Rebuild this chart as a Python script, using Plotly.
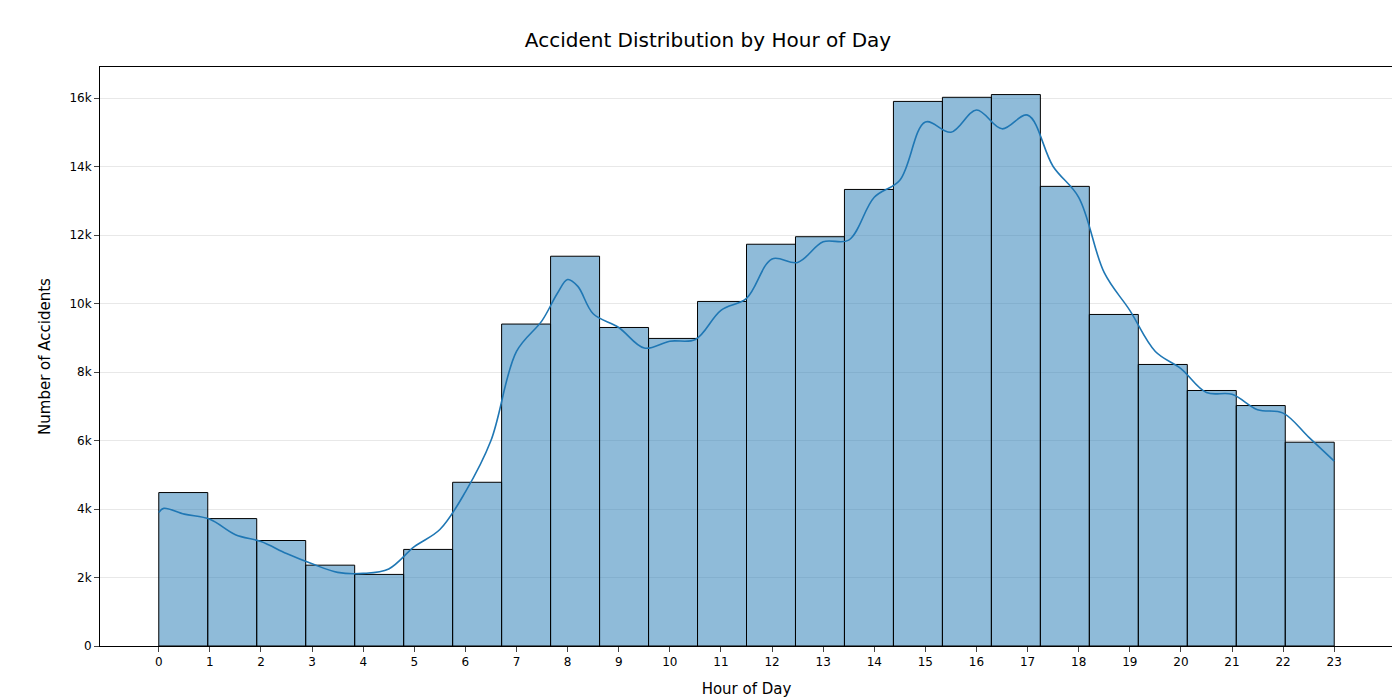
import plotly.graph_objects as go

counts = [4480, 3720, 3080, 2360, 2090, 2820, 4780, 9400, 11380, 9300, 8980, 10060,
          11730, 11950, 13330, 15900, 16020, 16100, 13420, 9680, 8220, 7460, 7020, 5950]

kde_x = [0, 0.1, 0.5, 1, 1.5, 2, 2.5, 3, 3.5, 4, 4.5, 5, 5.5, 6, 6.5, 7, 7.5, 7.8, 8, 8.2,
         8.5, 9, 9.5, 10, 10.5, 11, 11.5, 12, 12.5, 13, 13.5, 14, 14.5, 15, 15.5, 16, 16.5,
         17, 17.5, 18, 18.5, 19, 19.5, 20, 20.5, 21, 21.5, 22, 22.5, 23]
kde_y = [3900, 4020, 3850, 3700, 3250, 3050, 2700, 2400, 2150, 2120, 2250, 2900, 3400, 4500,
         6000, 8600, 9500, 10300, 10700, 10500, 9700, 9300, 8700, 8900, 8950, 9800, 10150,
         11300, 11200, 11800, 11850, 13100, 13600, 15300, 15000, 15650, 15100, 15500, 14000,
         13100, 10900, 9800, 8600, 8100, 7400, 7350, 6900, 6800, 6100, 5400]

hours = list(range(24))
bw = 23 / 24
centers = [bw * (i + 0.5) for i in range(24)]

fig = go.Figure()
fig.add_trace(go.Bar(x=centers, y=counts, width=bw,
                     marker=dict(color="rgba(31,119,180,0.5)", line=dict(color="black", width=1))))
fig.add_trace(go.Scatter(x=kde_x, y=kde_y, mode="lines", line=dict(color="#1f77b4", width=1.6,
                                                                     shape="spline")))
fig.update_layout(
    width=1400, height=700, showlegend=False, plot_bgcolor="white", paper_bgcolor="white",
    font=dict(family="DejaVu Sans", color="black", size=12),
    title=dict(text="Accident Distribution by Hour of Day", x=0.5, y=0.965,
               font=dict(size=20)),
    margin=dict(l=92, r=15, t=59, b=62),
    xaxis=dict(range=[-1.15, 24.15], tickvals=hours, ticks="outside", showgrid=False,
               title=dict(text="Hour of Day", font=dict(size=15)), showline=True,
               linecolor="black", mirror=True, zeroline=False),
    yaxis=dict(range=[0, 16905], dtick=2000, ticks="outside", gridcolor="#e8e8e8",
               title=dict(text="Number of Accidents", font=dict(size=15)), showline=True,
               linecolor="black", mirror=True, zeroline=False),
)
fig.write_html("out.html")
